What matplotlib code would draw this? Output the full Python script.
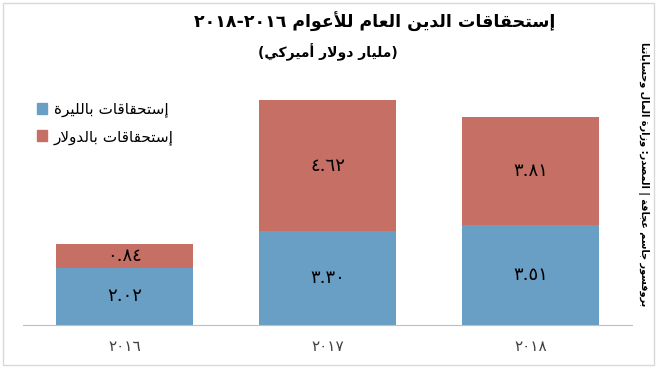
import re
import matplotlib
matplotlib.use('Agg')
import matplotlib.pyplot as plt
from matplotlib.patches import Patch, Rectangle

# data
years = ['2016', '2017', '2018']
lira = [2.02, 3.30, 3.51]
dollar = [0.84, 4.62, 3.81]
title = 'إستحقاقات الدين العام للأعوام ٢٠١٦-٢٠١٨'
subtitle = '(مليار دولار أميركي)'
legend_labels = ['إستحقاقات بالليرة', 'إستحقاقات بالدولار']
source = 'بروفسور جاسم عجاقة | المصدر: وزارة المال وحساباتنا'

blue = '#6A9FC5'
red = '#C66F65'

# --- minimal arabic shaping (matplotlib has no complex text layout) ---
FORMS = {}
for ch, start, n in [('آ', 0xFE81, 2), ('أ', 0xFE83, 2), ('إ', 0xFE87, 2), ('ا', 0xFE8D, 2),
                     ('ب', 0xFE8F, 4), ('ة', 0xFE93, 2), ('ت', 0xFE95, 4), ('ج', 0xFE9D, 4),
                     ('ح', 0xFEA1, 4), ('د', 0xFEA9, 2), ('ر', 0xFEAD, 2), ('ز', 0xFEAF, 2),
                     ('س', 0xFEB1, 4), ('ص', 0xFEB9, 4), ('ع', 0xFEC9, 4), ('ف', 0xFED1, 4),
                     ('ق', 0xFED5, 4), ('ك', 0xFED9, 4), ('ل', 0xFEDD, 4), ('م', 0xFEE1, 4),
                     ('ن', 0xFEE5, 4), ('و', 0xFEED, 2), ('ي', 0xFEF1, 4)]:
    FORMS[ch] = [chr(start + k) for k in range(n)]
LAMALEF = {'آ': 0xFEF5, 'أ': 0xFEF7, 'إ': 0xFEF9, 'ا': 0xFEFB}
MIRROR = {'(': ')', ')': '('}
DIGITS = str.maketrans('0123456789', '٠١٢٣٤٥٦٧٨٩')


def ar(s):
    out = []
    i = 0
    while i < len(s):
        c = s[i]
        prev = s[i - 1] if i > 0 else ''
        jp = prev in FORMS and len(FORMS[prev]) == 4
        if c == 'ل' and i + 1 < len(s) and s[i + 1] in LAMALEF:
            out.append(chr(LAMALEF[s[i + 1]] + int(jp)))
            i += 2
            continue
        if c in FORMS:
            f = FORMS[c]
            nxt = s[i + 1] if i + 1 < len(s) else ''
            jn = len(f) == 4 and nxt in FORMS
            if jp and jn:
                out.append(f[3])
            elif jp:
                out.append(f[1])
            elif jn:
                out.append(f[2])
            else:
                out.append(f[0])
        else:
            out.append(c)
        i += 1
    toks = re.findall(r'[٠-٩0-9]+|[^٠-٩0-9]', ''.join(out))
    return ''.join(t if t[0].isdigit() else MIRROR.get(t, t) for t in reversed(toks))


def num(v):
    return f'{v:.2f}'.translate(DIGITS)


plt.rcParams['font.family'] = ['DejaVu Sans']

fig = plt.figure(figsize=(6.59, 3.71), dpi=100)
ax = fig.add_axes([23 / 659, 46 / 371, 609 / 659, 0.65])

x = range(len(years))
b1 = ax.bar(x, lira, width=0.67, color=blue, label=ar(legend_labels[0]))
b2 = ax.bar(x, dollar, width=0.67, bottom=lira, color=red, label=ar(legend_labels[1]))

numfont = ['DejaVu Serif', 'DejaVu Sans']
for i in x:
    ax.text(i, lira[i] / 2, num(lira[i]), ha='center', va='center', fontsize=13,
            family=numfont, color='black')
    ax.text(i, lira[i] + dollar[i] / 2, num(dollar[i]), ha='center', va='center',
            fontsize=13, family=numfont, color='black')

ax.set_xlim(-0.5, 2.5)
ax.set_ylim(0, 8.5)
ax.set_yticks([])
ax.set_xticks(list(x))
ax.set_xticklabels([y.translate(DIGITS) for y in years], family=numfont,
                   fontsize=11, color='#404040')
ax.tick_params(axis='x', length=0, pad=11)
for s in ['top', 'left', 'right']:
    ax.spines[s].set_visible(False)
ax.spines['bottom'].set_color('#BFBFBF')

fig.legend(handles=[Patch(color=blue), Patch(color=red)],
           labels=[ar(legend_labels[0]), ar(legend_labels[1])],
           loc='upper left', bbox_to_anchor=(23 / 659, 1 - 88 / 371),
           frameon=False, fontsize=11, handlelength=0.7, handleheight=0.7,
           handletextpad=0.4, labelspacing=0.75)

fig.text(375 / 659, 1 - 22 / 371, ar(title), ha='center', va='center',
         fontsize=12.5, fontweight='bold')
fig.text(328 / 659, 1 - 52 / 371, ar(subtitle), ha='center', va='center',
         fontsize=10, fontweight='bold')
fig.text(643 / 659, 1 - 174 / 371, ar(source), ha='center', va='center',
         rotation=270, fontsize=7, fontweight='bold')

fig.patches.append(Rectangle((3 / 659, 6 / 371), 651 / 659, 362 / 371,
                             transform=fig.transFigure, fill=False,
                             edgecolor='#D9D9D9', lw=1))

fig.savefig('out.png', dpi=100)
